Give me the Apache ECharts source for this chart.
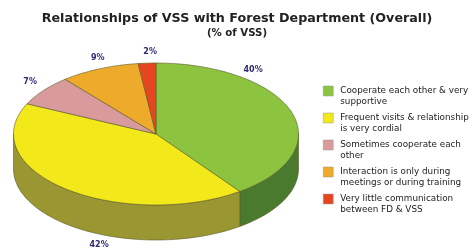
<!DOCTYPE html>
<html>
<head>
<meta charset="utf-8">
<script src="https://cdn.jsdelivr.net/npm/echarts@6/dist/echarts.min.js"></script>
<style>
html, body { margin: 0; padding: 0; background: #fff; }
#main { width: 474px; height: 250px; }
</style>
</head>
<body>
<div id="main"></div>
<script>
// 分类名称（按图例中的换行）
var categories = [
	'Cooperate each other & very\nsupportive',
	'Frequent visits & relationship\nis very cordial',
	'Sometimes cooperate each\nother',
	'Interaction is only during\nmeetings or during training',
	'Very little communication\nbetween FD & VSS'
];
// 百分比数据
var values = [40, 42, 7, 9, 2];
// 扇区颜色 / 侧面颜色
var topColors = ['#8cc43f', '#f2e81a', '#d99a9c', '#eeaa2a', '#e5461f'];
var sideColors = ['#4a7a2e', '#9a9632', '#a87072', '#b07d1c', '#a83216'];
// 标签相对位置微调（像素）
var labelNudge = [[-52, -40], [43, 16], [-2, -4.5], [4, -4], [4, -4]];

// 椭圆饼图的几何参数
var cx = 156, cy = 134, rx = 142.5, ry = 71, depth = 35;
var font = '"DejaVu Sans", sans-serif';

var total = values.reduce(function(a, b) { return a + b; }, 0);

function pt(t, dy) {
	var r = t * Math.PI / 180;
	return [cx + rx * Math.cos(r), cy - ry * Math.sin(r) + (dy || 0)];
}

function arc(t1, t2, dy) {
	// 从 t1 到 t2 的椭圆弧上的点
	var pts = [];
	var n = Math.max(2, Math.ceil(Math.abs(t2 - t1) / 2));
	for (var i = 0; i <= n; i++) {
		pts.push(pt(t1 + (t2 - t1) * i / n, dy));
	}
	return pts;
}

function renderSlice(params, api) {
	var start = api.value(0);
	var val = api.value(1);
	var idx = params.seriesIndex;
	// 顺时针从正上方开始
	var a1 = 90 - start / total * 360;
	var a2 = 90 - (start + val) / total * 360;
	var children = [];
	var edge = '#5c5a2a';

	// 侧面，只画前半部分 [-180, 0] 和 [-540, -360]
	[[-180, 0], [-540, -360]].forEach(function(rng) {
		var s = Math.min(a1, rng[1]);
		var e = Math.max(a2, rng[0]);
		if (s > e) {
			var top = arc(s, e, 0);
			var bottom = arc(e, s, depth);
			children.push({
				type: 'polygon',
				shape: { points: top.concat(bottom) },
				style: { fill: sideColors[idx], stroke: edge, lineWidth: 0.6 }
			});
		}
	});

	// 顶面
	var pts = [[cx, cy]].concat(arc(a1, a2, 0));
	children.push({
		type: 'polygon',
		shape: { points: pts },
		style: { fill: topColors[idx], stroke: edge, lineWidth: 0.6 }
	});

	// 百分比标签
	var mid = (a1 + a2) / 2;
	var r = mid * Math.PI / 180;
	var lx = cx + rx * 1.1 * Math.cos(r);
	var ly = cy - ry * 1.1 * Math.sin(r);
	if (Math.sin(r) < 0) ly += depth;
	children.push({
		type: 'text',
		x: lx + labelNudge[idx][0],
		y: ly + labelNudge[idx][1],
		style: {
			text: Math.round(val / total * 100) + '%',
			fill: '#2d2c74',
			font: 'bold 8px ' + font,
			align: 'center',
			verticalAlign: 'middle'
		}
	});

	return { type: 'group', children: children };
}

var series = [];
var cum = 0;
for (var i = 0; i < values.length; i++) {
	series.push({
		name: categories[i],
		type: 'custom',
		coordinateSystem: 'none',
		itemStyle: { color: topColors[i] },
		renderItem: renderSlice,
		data: [[cum, values[i]]]
	});
	cum += values[i];
}

var chart = echarts.init(document.getElementById('main'));
chart.setOption({
	animation: false,
	title: {
		left: 'center',
		top: 7,
		text: 'Relationships of VSS with Forest Department (Overall)',
		subtext: '(% of VSS)',
		itemGap: 3,
		textStyle: {
			fontFamily: font,
			fontSize: 12.7,
			fontWeight: 'bold',
			color: '#222'
		},
		subtextStyle: {
			fontFamily: font,
			fontSize: 10.2,
			fontWeight: 'bold',
			color: '#222'
		}
	},
	legend: {
		orient: 'vertical',
		left: 323,
		top: 74.5,
		padding: 0,
		itemWidth: 10,
		itemHeight: 10,
		itemGap: -6,
		icon: 'rect',
		itemStyle: { borderColor: '#999', borderWidth: 0.5 },
		// 空的首行让方块与第一行文字对齐
		formatter: function(name) {
			return ' \n' + name;
		},
		textStyle: {
			fontFamily: font,
			fontSize: 8.8,
			color: '#222',
			lineHeight: 11,
			padding: [0, 0, 0, 2]
		},
		data: categories
	},
	series: series
});
</script>
</body>
</html>
